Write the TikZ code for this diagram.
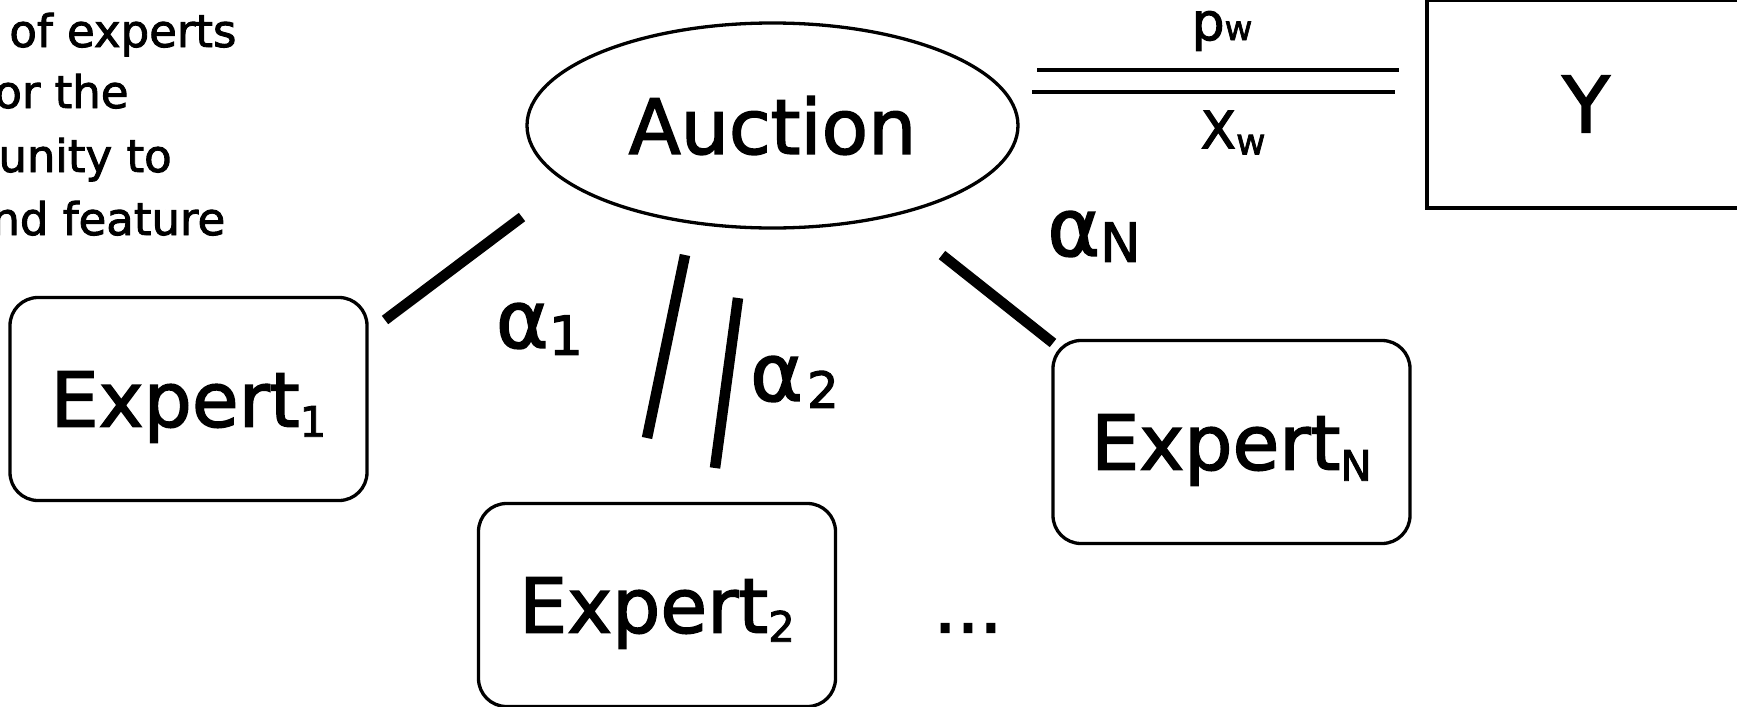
\documentclass[tikz,border=0pt]{standalone}
\usepackage{fontspec}
\setmainfont{DejaVu Sans}[FakeBold=2]
\usetikzlibrary{shapes.geometric}
% font size helper and a lowered, smaller index
\newcommand{\setfs}[1]{\fontsize{#1}{#1}\selectfont}
\newcommand{\lowsub}[3]{\raisebox{-#2}{\setfs{#1}#3}}
\begin{document}
\begin{tikzpicture}[x=0.5pt,y=-0.5pt,
  thinline/.style={line width=1.65pt},
  expert/.style={draw, thinline, rounded corners=14pt, inner sep=0pt,
    minimum width=178.5pt, minimum height=101.5pt, text depth=0pt,
    font={\setfs{38}}},
  label/.style={inner sep=0pt, font={\setfs{40}}},
  link/.style={line width=5.25pt},
  bus/.style={line width=2pt},
  note/.style={inner sep=0pt, anchor=base west, font={\setfs{22.5}}}]
\useasboundingbox (0,0) rectangle (1737,707);

% explanatory text at the left
\node[note] (t1) at (9,47)   {of experts};
\node[note] (t2) at (-6,108) {or the};
\node[note] (t3) at (-2,172) {unity to};
\node[note] (t4) at (-9,235) {nd feature};

% auction and experts
\node[ellipse, draw, thinline, inner sep=0pt, minimum width=245.5pt,
      minimum height=102.5pt, font={\setfs{38}}] (auction) at (772.5,125.5) {Auction};
\node[expert] (e1) at (188.5,399) {Expert\lowsub{21}{5pt}{1}};
\node[expert] (e2) at (657,605)   {Expert\lowsub{21}{4.5pt}{2}};
\node[expert] (en) at (1231.5,442) {Expert\lowsub{21}{5.5pt}{N}};
\node[inner sep=0pt, font={\setfs{36}}] (dots) at (968,628) {...};

% outcome box
\node[draw, line width=1.8pt, inner sep=0pt, minimum width=159pt,
      minimum height=104pt, font={\setfs{39}}] (ybox) at (1586,104) {Y};

% weights on the expert links
\node[label] (a1) at (539.5,329) {α\lowsub{27}{3.5pt}{1}};
\node[label] (a2) at (794.5,382) {α\hspace{2pt}\lowsub{25}{3.5pt}{2}};
\node[label] (an) at (1094,236.5) {α\lowsub{27}{3pt}{N}};

% links between the auction and the experts
\coordinate (l1a) at (522,217);  \coordinate (l1b) at (385,320);
\coordinate (l2a) at (685,255);  \coordinate (l2b) at (647,438);
\coordinate (l3a) at (738,298);  \coordinate (l3b) at (715,468);
\coordinate (lna) at (942,255);  \coordinate (lnb) at (1053,343);
\draw[link] (l1a) -- (l1b);
\draw[link] (l2a) -- (l2b);
\draw[link] (l3a) -- (l3b);
\draw[link] (lna) -- (lnb);

% price and allocation channel towards Y
\coordinate (b1s) at (1037,70); \coordinate (b1e) at (1399,70);
\coordinate (b2s) at (1032,92); \coordinate (b2e) at (1395,92);
\draw[bus] (b1s) -- (b1e);
\draw[bus] (b2s) -- (b2e);
\node[inner sep=0pt] (pw) at (1222,31) {\setfs{26}p\setfs{17}w};
\node[inner sep=0pt] (xw) at (1233,132.5) {\setfs{26}X\lowsub{18}{3pt}{w}};
\end{tikzpicture}
\end{document}
